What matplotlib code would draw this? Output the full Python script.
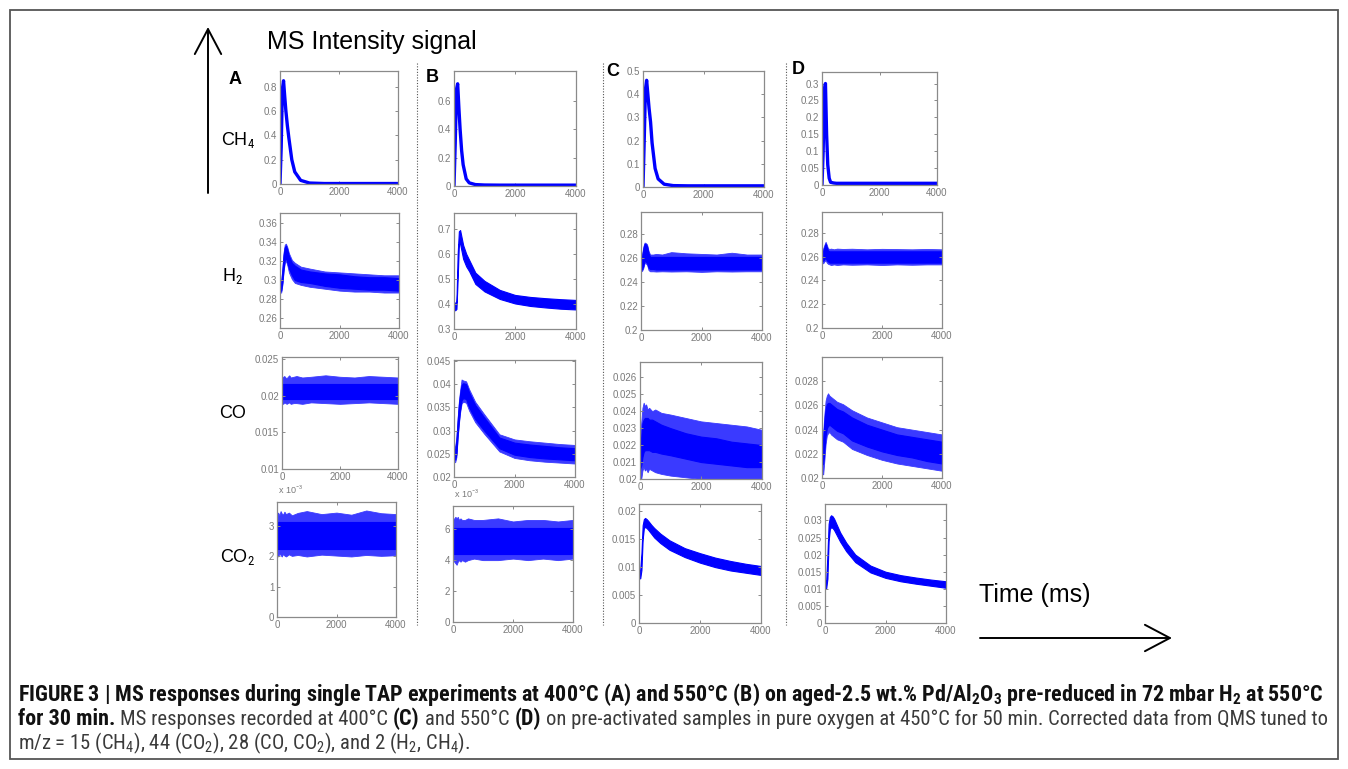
import matplotlib
matplotlib.use("Agg")
import matplotlib.pyplot as plt
from matplotlib import font_manager
from matplotlib.lines import Line2D
from matplotlib.patches import FancyArrowPatch, Rectangle
from matplotlib.ticker import FixedLocator, FixedFormatter

W, H = 1348, 769


def pick_caption_font():
    # the caption in the figure is set in a condensed sans; use one if it is there
    entries = font_manager.fontManager.ttflist
    names = {f.name for f in entries}
    for n in ['Liberation Sans Narrow', 'Roboto Condensed', 'Noto Sans Condensed', 'Arial Narrow',
              'Nimbus Sans Narrow', 'DejaVu Sans Condensed']:
        if n in names:
            return n, 'normal'
    for n in ['Noto Sans', 'Roboto', 'Open Sans', 'DejaVu Sans', 'Liberation Sans']:
        st = {str(f.stretch) for f in entries if f.name == n}
        for s in ['condensed', 'semi-condensed', 'extra-condensed']:
            if s in st:
                return n, s
    return 'Liberation Sans', 'normal'


cap_font, cap_stretch = pick_caption_font()

plt.rcParams['font.family'] = ['Liberation Sans', 'DejaVu Sans']
plt.rcParams['mathtext.fontset'] = 'custom'
plt.rcParams['mathtext.rm'] = cap_font + ':stretch=' + cap_stretch
plt.rcParams['mathtext.bf'] = cap_font + ':bold:stretch=' + cap_stretch

t_ms = [0, 40, 80, 120, 160, 200, 250, 300, 400, 500, 700, 1000, 1500, 2000, 2500, 3000, 3500, 4000]

# CH4 pulses
ch4_A = [0.0, 0.30, 0.78, 0.85, 0.72, 0.60, 0.48, 0.38, 0.20, 0.10, 0.03, 0.008, 0.004, 0.004, 0.004, 0.004, 0.004, 0.004]
ch4_B = [0.0, 0.30, 0.68, 0.72, 0.55, 0.40, 0.25, 0.15, 0.05, 0.022, 0.010, 0.007, 0.006, 0.006, 0.006, 0.006, 0.006, 0.006]
ch4_C = [0.0, 0.20, 0.42, 0.46, 0.40, 0.34, 0.28, 0.19, 0.08, 0.035, 0.012, 0.006, 0.005, 0.005, 0.005, 0.005, 0.005, 0.005]
ch4_D = [0.0, 0.10, 0.28, 0.30, 0.15, 0.06, 0.02, 0.008, 0.006, 0.005, 0.005, 0.005, 0.005, 0.005, 0.005, 0.005, 0.005, 0.005]

# H2 noise band (dense core) and spike envelope
h2_A_lo = [.289, .289, .298, .312, .321, .323, .318, .312, .305, .300, .298, .297, .294, .292, .291, .290, .290, .289]
h2_A_hi = [.296, .297, .310, .326, .334, .336, .331, .325, .318, .315, .311, .309, .307, .306, .304, .303, .303, .302]
h2_A_slo = [.287, .287, .295, .309, .318, .320, .315, .308, .301, .297, .295, .293, .291, .289, .288, .288, .287, .287]
h2_A_shi = [.298, .299, .313, .329, .337, .338, .334, .328, .321, .318, .314, .312, .309, .308, .307, .306, .305, .305]

h2_B_lo = [.375, .375, .380, .500, .640, .640, .610, .580, .550, .530, .480, .450, .420, .402, .392, .386, .381, .378]
h2_B_hi = [.405, .405, .410, .600, .690, .695, .665, .635, .600, .575, .525, .492, .456, .436, .428, .423, .419, .416]

h2_C_lo = [.2500, .2510, .2540, .2580, .2570, .2560, .2520, .2510, .2510, .2505, .2505, .2505, .2505, .2505, .2505, .2505, .2505, .2505]
h2_C_hi = [.2600, .2620, .2680, .2720, .2715, .2700, .2640, .2610, .2610, .2610, .2610, .2610, .2610, .2610, .2610, .2610, .2610, .2610]
h2_C_slo = [.2490, .2495, .2520, .2560, .2555, .2545, .2500, .2490, .2490, .2488, .2490, .2488, .2490, .2485, .2490, .2488, .2490, .2490]
h2_C_shi = [.2620, .2640, .2700, .2730, .2725, .2715, .2660, .2630, .2630, .2635, .2630, .2650, .2640, .2635, .2630, .2645, .2630, .2630]

h2_D_lo = [.2565, .2565, .2580, .2590, .2570, .2560, .2550, .2550, .2550, .2550, .2550, .2550, .2550, .2550, .2550, .2550, .2550, .2550]
h2_D_hi = [.2640, .2650, .2680, .2710, .2680, .2650, .2645, .2645, .2645, .2645, .2645, .2645, .2645, .2645, .2645, .2645, .2645, .2645]
h2_D_slo = [.2545, .2545, .2560, .2570, .2550, .2540, .2535, .2530, .2535, .2530, .2535, .2532, .2535, .2530, .2535, .2532, .2535, .2535]
h2_D_shi = [.2660, .2670, .2700, .2725, .2700, .2670, .2665, .2668, .2662, .2668, .2665, .2667, .2662, .2666, .2664, .2662, .2665, .2662]

# CO
co_A_lo = [.0196] * 18
co_A_hi = [.0216] * 18
co_A_slo = [.0190, .0189, .0191, .0190, .0189, .0190, .0191, .0189, .0190, .0190, .0189, .0191, .0190, .0189, .0190, .0191, .0190, .0189]
co_A_shi = [.0224, .0226, .0227, .0225, .0224, .0226, .0228, .0225, .0226, .0227, .0225, .0226, .0228, .0226, .0225, .0227, .0226, .0225]

co_B_lo = [.0238, .0238, .0250, .0290, .0320, .0345, .0365, .0370, .0368, .0350, .0325, .0300, .0262, .0248, .0243, .0240, .0238, .0236]
co_B_hi = [.0260, .0260, .0280, .0320, .0355, .0378, .0398, .0402, .0400, .0382, .0355, .0328, .0285, .0274, .0270, .0267, .0264, .0262]
co_B_slo = [.0232, .0232, .0243, .0283, .0313, .0338, .0358, .0362, .0360, .0343, .0318, .0293, .0255, .0241, .0236, .0233, .0231, .0229]
co_B_shi = [.0266, .0266, .0287, .0327, .0362, .0386, .0410, .0408, .0406, .0389, .0362, .0335, .0292, .0281, .0277, .0274, .0271, .0269]

co_C_lo = [.0206, .0208, .0213, .0216, .0217, .0217, .0217, .0217, .0216, .0216, .0215, .0214, .0212, .0210, .0209, .0208, .0207, .0207]
co_C_hi = [.0219, .0225, .0233, .0235, .0236, .0236, .0236, .0235, .0235, .0234, .0232, .0230, .0227, .0225, .0224, .0222, .0221, .0220]
co_C_slo = [.0200, .0200, .0205, .0207, .0205, .0206, .0204, .0206, .0205, .0204, .0203, .0202, .0201, .0200, .0200, .0200, .0200, .0200]
co_C_shi = [.0226, .0233, .0242, .0245, .0243, .0244, .0241, .0242, .0240, .0241, .0239, .0238, .0236, .0234, .0233, .0232, .0231, .0229]

co_D_lo = [.0211, .0212, .0223, .0235, .0241, .0243, .0244, .0243, .0241, .0239, .0237, .0231, .0226, .0222, .0219, .0217, .0214, .0212]
co_D_hi = [.0228, .0232, .0247, .0257, .0261, .0262, .0262, .0261, .0259, .0257, .0255, .0250, .0244, .0240, .0236, .0234, .0232, .0230]
co_D_slo = [.0204, .0203, .0215, .0228, .0235, .0237, .0238, .0236, .0234, .0232, .0230, .0224, .0219, .0215, .0212, .0210, .0208, .0206]
co_D_shi = [.0233, .0238, .0253, .0264, .0268, .0270, .0268, .0267, .0265, .0263, .0261, .0256, .0250, .0246, .0242, .0240, .0238, .0236]

# CO2
co2_A_lo = [.00225] * 18
co2_A_hi = [.00315] * 18
co2_A_slo = [.00205, .00200, .00210, .00205, .00200, .00208, .00203, .00200, .00207, .00202, .00205, .00200, .00206, .00203, .00200, .00205, .00202, .00204]
co2_A_shi = [.00340, .00345, .00335, .00350, .00342, .00338, .00348, .00340, .00345, .00336, .00344, .00350, .00340, .00345, .00338, .00352, .00343, .00340]

co2_B_lo = [.0044] * 18
co2_B_hi = [.0061] * 18
co2_B_slo = [.0040, .0039, .0038, .0037, .0039, .0040, .0039, .0040, .0039, .0040, .0041, .0040, .0040, .0041, .0040, .0041, .0040, .0041]
co2_B_shi = [.0066, .0067, .0068, .0067, .0068, .0066, .0067, .0066, .0066, .0067, .0066, .0066, .0067, .0065, .0066, .0066, .0065, .0066]

co2_C_lo = [.0080, .0080, .0095, .0150, .0170, .0172, .0170, .0167, .0160, .0153, .0143, .0131, .0118, .0108, .0100, .0094, .0090, .0086]
co2_C_hi = [.0095, .0095, .0125, .0175, .0186, .0188, .0186, .0183, .0176, .0170, .0160, .0148, .0134, .0125, .0117, .0111, .0106, .0102]

co2_D_lo = [.0102, .0102, .0130, .0240, .0275, .0280, .0278, .0272, .0255, .0238, .0210, .0178, .0148, .0132, .0122, .0115, .0109, .0103]
co2_D_hi = [.0125, .0125, .0200, .0290, .0310, .0315, .0312, .0305, .0285, .0265, .0235, .0200, .0168, .0150, .0140, .0133, .0127, .0122]

x_ticks = [0, 2000, 4000]
x_ticklabels = ['0', '2000', '4000']

fig = plt.figure(figsize=(W / 100, H / 100), dpi=100)


def fx(x):
    return x / W


def fy(y):
    return 1 - y / H


def rect(l, t, r, b):
    return [l / W, 1 - b / H, (r - l) / W, (b - t) / H]


grey = '#8a8a8a'
core_blue = '#0000ff'
spike_blue = '#3a3aff'


def make_ax(box, ylim, yticks, ylabels=None):
    ax = fig.add_axes(rect(*box))
    ax.set_xlim(0, 4000)
    ax.set_ylim(*ylim)
    ax.xaxis.set_major_locator(FixedLocator(x_ticks))
    ax.xaxis.set_major_formatter(FixedFormatter(x_ticklabels))
    ax.yaxis.set_major_locator(FixedLocator(yticks))
    if ylabels is None:
        ylabels = ['%g' % v for v in yticks]
    ax.yaxis.set_major_formatter(FixedFormatter(ylabels))
    ax.tick_params(direction='in', length=2.5, width=0.7, color=grey, labelcolor='#7a7a7a',
                   labelsize=7, pad=2, top=True, right=True)
    for s in ax.spines.values():
        s.set_color(grey)
        s.set_linewidth(0.9)
    return ax


def pulse(ax, vals):
    ax.plot(t_ms, vals, color=core_blue, lw=2.4, solid_joinstyle='round')


def band(ax, lo, hi, slo=None, shi=None):
    if slo is not None:
        ax.fill_between(t_ms, slo, shi, color=spike_blue, lw=0.6)
    ax.fill_between(t_ms, lo, hi, color=core_blue, lw=0.8)


# row 1: CH4
ax = make_ax((280, 71, 398, 184), (0, 0.93), [0, .2, .4, .6, .8]); pulse(ax, ch4_A)
ax = make_ax((454, 71, 576, 186), (0, 0.81), [0, .2, .4, .6]); pulse(ax, ch4_B)
ax = make_ax((643, 71, 764, 187), (0, 0.5), [0, .1, .2, .3, .4, .5]); pulse(ax, ch4_C)
ax = make_ax((822, 72, 937, 185), (0, 0.334), [0, .05, .1, .15, .2, .25, .3]); pulse(ax, ch4_D)

# row 2: H2
ax = make_ax((280, 213, 399, 328), (0.25, 0.37), [.26, .28, .30, .32, .34, .36])
band(ax, h2_A_lo, h2_A_hi, h2_A_slo, h2_A_shi)
ax = make_ax((454, 213, 576, 329), (0.3, 0.763), [.3, .4, .5, .6, .7])
band(ax, h2_B_lo, h2_B_hi)
ax = make_ax((641, 212, 762, 330), (0.2, 0.2985), [.2, .22, .24, .26, .28])
band(ax, h2_C_lo, h2_C_hi, h2_C_slo, h2_C_shi)
ax = make_ax((822, 212, 942, 328), (0.2, 0.2976), [.2, .22, .24, .26, .28])
band(ax, h2_D_lo, h2_D_hi, h2_D_slo, h2_D_shi)

# row 3: CO
ax = make_ax((282, 357, 398, 469), (0.01, 0.0253), [.01, .015, .02, .025])
band(ax, co_A_lo, co_A_hi, co_A_slo, co_A_shi)
ax = make_ax((454, 360, 575, 477), (0.02, 0.0452), [.02, .025, .03, .035, .04, .045])
band(ax, co_B_lo, co_B_hi, co_B_slo, co_B_shi)
ax = make_ax((640, 362, 762, 479), (0.02, 0.0269), [.02, .021, .022, .023, .024, .025, .026])
band(ax, co_C_lo, co_C_hi, co_C_slo, co_C_shi)
ax = make_ax((822, 357, 942, 478), (0.02, 0.030), [.02, .022, .024, .026, .028])
band(ax, co_D_lo, co_D_hi, co_D_slo, co_D_shi)

# row 4: CO2
ax = make_ax((277, 502, 396, 617), (0, 0.0038), [0, .001, .002, .003], ['0', '1', '2', '3'])
band(ax, co2_A_lo, co2_A_hi, co2_A_slo, co2_A_shi)
ax = make_ax((453, 506, 573, 622), (0, 0.0075), [0, .002, .004, .006], ['0', '2', '4', '6'])
band(ax, co2_B_lo, co2_B_hi, co2_B_slo, co2_B_shi)
ax = make_ax((639, 504, 761, 623), (0, 0.0213), [0, .005, .01, .015, .02])
band(ax, co2_C_lo, co2_C_hi)
ax = make_ax((825, 504, 946, 623), (0, 0.0348), [0, .005, .01, .015, .02, .025, .03])
band(ax, co2_D_lo, co2_D_hi)

fig.text(fx(278), fy(494), r'x 10$^{-3}$', fontsize=6.5, color='#7a7a7a', va='baseline')
fig.text(fx(454), fy(498), r'x 10$^{-3}$', fontsize=6.5, color='#7a7a7a', va='baseline')

# column separators
for xs in [417, 603, 786]:
    fig.add_artist(Line2D([fx(xs), fx(xs)], [fy(63), fy(625)], color='#555555', lw=0.8,
                          linestyle=(0, (1, 1.5))))

# panel letters
for lab, (xl, yl) in zip(['A', 'B', 'C', 'D'], [(235, 80), (432, 77), (613, 72), (798, 70)]):
    fig.text(fx(xl), fy(yl), lab, fontsize=13, fontweight='bold', ha='center', va='center')

# species labels
species = [r'CH$_4$', r'H$_2$', 'CO', r'CO$_2$']
for lab, (xl, yl) in zip(species, [(238, 140), (232, 276), (233, 413), (237, 557)]):
    fig.text(fx(xl), fy(yl), lab, fontsize=13, ha='center', va='center')

fig.text(fx(267), fy(42), 'MS Intensity signal', fontsize=18, va='center')
fig.text(fx(979), fy(595), 'Time (ms)', fontsize=18, va='center')

arrow_style = '->,head_length=1.8,head_width=0.95'
fig.add_artist(FancyArrowPatch((fx(208), fy(193)), (fx(208), fy(27)), transform=fig.transFigure,
                               arrowstyle=arrow_style, mutation_scale=10, lw=1.4, color='black',
                               shrinkA=0, shrinkB=0))
fig.add_artist(FancyArrowPatch((fx(980), fy(638)), (fx(1172), fy(638)), transform=fig.transFigure,
                               arrowstyle=arrow_style, mutation_scale=10, lw=1.4, color='black',
                               shrinkA=0, shrinkB=0))

fig.add_artist(Rectangle((fx(10), fy(759)), 1328 / W, 749 / H, transform=fig.transFigure,
                         fill=False, edgecolor='#555555', lw=1.3))

# caption
renderer = fig.canvas.get_renderer()

line1 = [(r'FIGURE 3 | MS responses during single TAP experiments at 400°C (A) and 550°C (B) on aged-2.5 wt.% '
          r'Pd/Al$_{\mathbf{2}}$O$_{\mathbf{3}}$ pre-reduced in 72 mbar H$_{\mathbf{2}}$ at 550°C', 'bold')]
line2 = [('for 30 min.', 'bold'), (' MS responses recorded at 400°C', 'normal'), (' (C)', 'bold'),
         (' and 550°C', 'normal'), (' (D)', 'bold'),
         (' on pre-activated samples in pure oxygen at 450°C for 50 min. Corrected data from QMS tuned to', 'normal')]
line3 = [(r'm/z = 15 (CH$_4$), 44 (CO$_2$), 28 (CO, CO$_2$), and 2 (H$_2$, CH$_4$).', 'normal')]


def text_w(s, size, weight):
    t = fig.text(0, 0, s, fontsize=size, fontweight=weight, family=cap_font, fontstretch=cap_stretch)
    w = t.get_window_extent(renderer).width
    t.remove()
    return w


def space_w(size, weight):
    return text_w('x x', size, weight) - text_w('xx', size, weight)


def runs_w(runs, weight, size):
    # width taken by the runs of one weight, leading spaces included
    w = 0
    for s, wt in runs:
        if wt != weight:
            continue
        if s.startswith(' '):
            w += space_w(size, wt)
            s = s[1:]
        w += text_w(s, size, wt)
    return w


def put_runs(x0, y, runs, sizes):
    x = x0
    for s, weight in runs:
        size = sizes[weight]
        if s.startswith(' '):
            x += space_w(size, weight)
            s = s[1:]
        col = '#111111' if weight == 'bold' else '#3a3a3a'
        t = fig.text(fx(x), fy(y), s, fontsize=size, fontweight=weight, family=cap_font,
                     fontstretch=cap_stretch, color=col, va='baseline')
        x += t.get_window_extent(renderer).width
    return x


# bold size from the width of line 1, regular size so that line 2 ends where it does
size_b = 10 * 1307 / runs_w(line1, 'bold', 10)
wb = runs_w(line2, 'bold', size_b)
size_n = min(10 * (1300 - wb) / runs_w(line2, 'normal', 10), size_b)
sizes = {'bold': size_b, 'normal': size_n}
put_runs(18, 701, line1, sizes)
put_runs(18, 725, line2, sizes)
put_runs(18, 749, line3, sizes)

fig.savefig('out.png', dpi=100)
